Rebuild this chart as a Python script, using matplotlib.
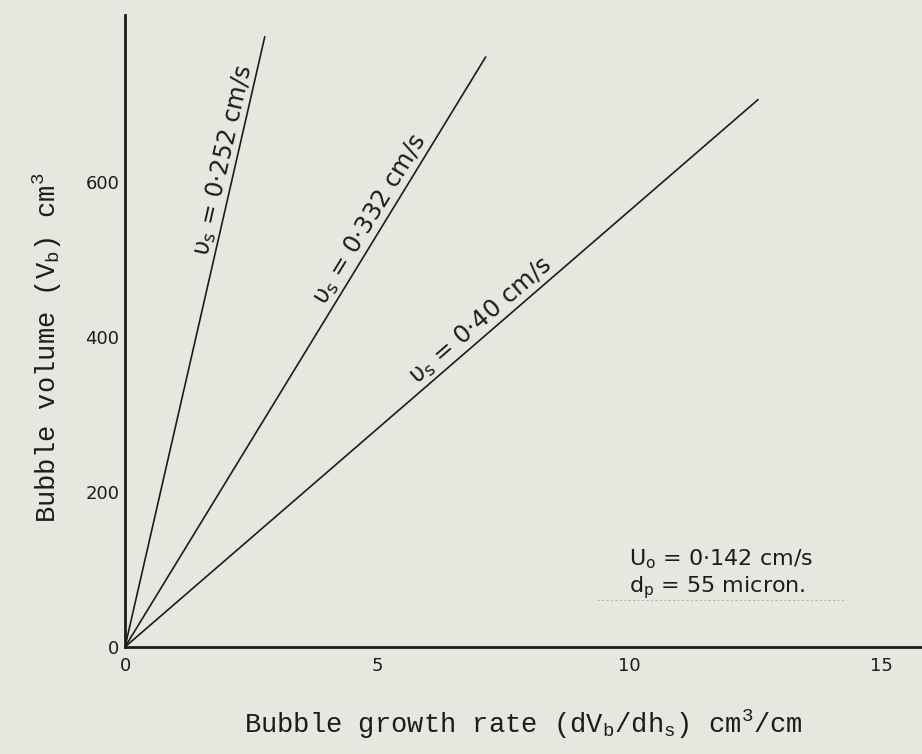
import numpy as np
import matplotlib
matplotlib.use("Agg")
import matplotlib.pyplot as plt

# superficial gas velocities and the end points of each straight line
velocities = ["0·252", "0·332", "0·40"]
rate_end = [2.77, 7.15, 12.55]      # dVb/dhs, cm3/cm
volume_end = [787, 761, 706]        # Vb, cm3

x_ticks = [0, 5, 10, 15]
y_ticks = [0, 200, 400, 600]

paper = "#e5e8de"
ink = "#1c1c1c"

plt.rcParams["mathtext.fontset"] = "custom"
plt.rcParams["mathtext.rm"] = "Liberation Mono"
plt.rcParams["mathtext.it"] = "Liberation Mono"

fig = plt.figure(figsize=(9.22, 7.54), dpi=100, facecolor=paper)
ax = fig.add_axes([0.1356, 0.142, 0.8644, 0.838], facecolor=paper)

for v, xe, ye, t in zip(velocities, rate_end, volume_end, [0.79, 0.71, 0.575]):
    ax.plot([0, xe], [0, ye], color=ink, lw=1.2, solid_capstyle="round")
    ang = np.degrees(np.arctan2(ye, xe))
    ax.text(t * xe, t * ye + 3, r"υ$_\mathregular{s}$" + " = " + v + " cm/s",
            rotation=ang, rotation_mode="anchor", transform_rotates_text=True,
            ha="center", va="bottom", fontsize=17.5, color=ink,
            family="DejaVu Sans")

ax.set_xlim(0, 15.8)
ax.set_ylim(0, 815)
ax.spines["top"].set_visible(False)
ax.spines["right"].set_visible(False)
for s in ["left", "bottom"]:
    ax.spines[s].set_linewidth(2.0)
    ax.spines[s].set_color(ink)

ax.set_xticks(x_ticks)
ax.set_yticks(y_ticks)
ax.tick_params(length=0, labelsize=13, colors=ink, pad=7)
ax.tick_params(axis="y", pad=4)

ax.set_xlabel(r"Bubble growth rate (dV$_\mathrm{b}$/dh$_\mathrm{s}$) cm$^\mathrm{3}$/cm",
              family="Liberation Mono", fontsize=19.5, color=ink, labelpad=24)
ax.set_ylabel(r"Bubble volume (V$_\mathrm{b}$) cm$^\mathrm{3}$",
              family="Liberation Mono", fontsize=19.5, color=ink)
ax.yaxis.set_label_coords(-0.077, 0.473)

# operating conditions
ax.text(10.0, 113, r"U$_\mathregular{o}$ = 0·142 cm/s", fontsize=16, color=ink,
        family="DejaVu Sans", va="center")
ax.text(10.0, 76, r"d$_\mathregular{p}$ = 55 micron.", fontsize=16, color=ink,
        family="DejaVu Sans", va="center")
ax.plot([9.35, 14.3], [60, 60], color="#9a9c94", lw=0.8, ls=(0, (2, 2)), alpha=0.6)

fig.savefig("out.png", dpi=100, facecolor=paper)
